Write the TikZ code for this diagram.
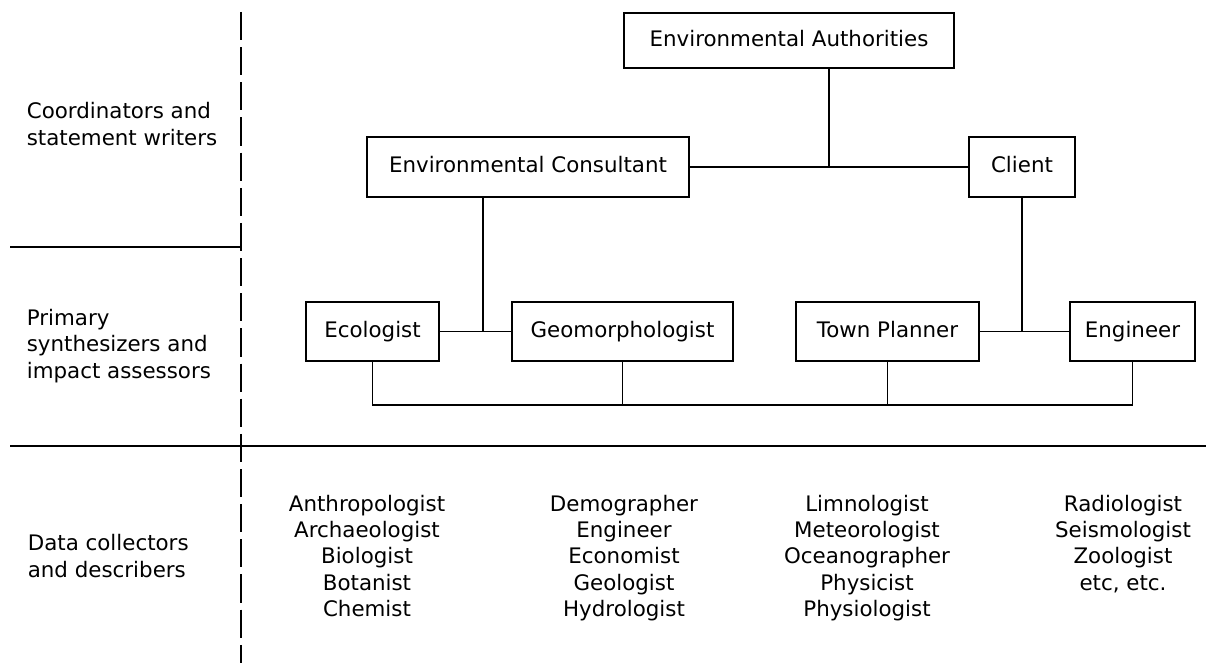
\documentclass[tikz,border=0pt]{standalone}
\usepackage{fontspec}
\setmainfont{DejaVu Sans}
\usetikzlibrary{calc}
\tikzset{
  rolebox/.style={draw, line width=1.2pt, inner sep=0pt, minimum height=1.5cm,
    text height=11pt, text depth=3pt},
  sidelabel/.style={anchor=west, align=left, inner sep=0pt},
  experts/.style={anchor=north, align=center, inner sep=0pt},
}
\begin{document}
\begin{tikzpicture}[x=0.025cm, y=-0.025cm, line width=1.2pt,
  font=\fontsize{15.2}{18.8}\selectfont]
  \useasboundingbox (0,0) rectangle (1206,663);
  % levels
  \draw [dashed, dash pattern=on 20pt off 5pt] (241,12) coordinate (dtop) -- (241,663) coordinate (dbot);
  \draw (10,247) coordinate (ua) -- (ua -| dtop);
  \draw (10,446) coordinate (la) -- (1206,446) coordinate (lb);
  \node [sidelabel] (coord) at (26,124) {Coordinators and\\statement writers};
  \node [sidelabel] (synth) at (26,346) {Primary\\synthesizers and\\impact assessors};
  \node [sidelabel] (data) at (27,556) {Data collectors\\and describers};
  % boxes
  \node [rolebox, minimum width=8.25cm, minimum height=1.375cm] (auth) at (789,40.5) {Environmental Authorities};
  \node [rolebox, minimum width=8.05cm] (cons) at (528,167) {Environmental Consultant};
  \node [rolebox, minimum width=2.65cm] (client) at (1022,167) {Client};
  \node [rolebox, minimum width=3.325cm, minimum height=1.475cm] (eco) at (372.5,331.5) {Ecologist};
  \node [rolebox, minimum width=5.525cm, minimum height=1.475cm] (geo) at (622.5,331.5) {Geomorphologist};
  \node [rolebox, minimum width=4.575cm, minimum height=1.475cm] (town) at (887.5,331.5) {Town Planner};
  \node [rolebox, minimum width=3.125cm, minimum height=1.475cm] (eng) at (1132.5,331.5) {Engineer};
  % links
  \draw (cons) -- (client);
  \coordinate (tj) at ($(cons.east)!0.5!(client.west)$);
  \draw (auth.south -| tj) -- (tj);
  \draw (eco) -- (geo);
  \coordinate (lj) at (483,331.5);
  \draw (cons.south -| lj) -- (lj);
  \draw (town) -- (eng);
  \draw (client.south) -- (client.south |- town);
  \coordinate (bus) at (0,405);
  \draw (eco.south) |- (eng.south |- bus) -- (eng.south);
  \draw (geo.south) -- (geo.south |- bus);
  \draw (town.south) -- (town.south |- bus);
  % data collectors
  \node [experts] (col1) at (367,494) {Anthropologist\\Archaeologist\\Biologist\\Botanist\\Chemist};
  \node [experts] (col2) at (624,494) {Demographer\\Engineer\\Economist\\Geologist\\Hydrologist};
  \node [experts] (col3) at (867,494) {Limnologist\\Meteorologist\\Oceanographer\\Physicist\\Physiologist};
  \node [experts] (col4) at (1123,494) {Radiologist\\Seismologist\\Zoologist\\etc, etc.};
\end{tikzpicture}
\end{document}
